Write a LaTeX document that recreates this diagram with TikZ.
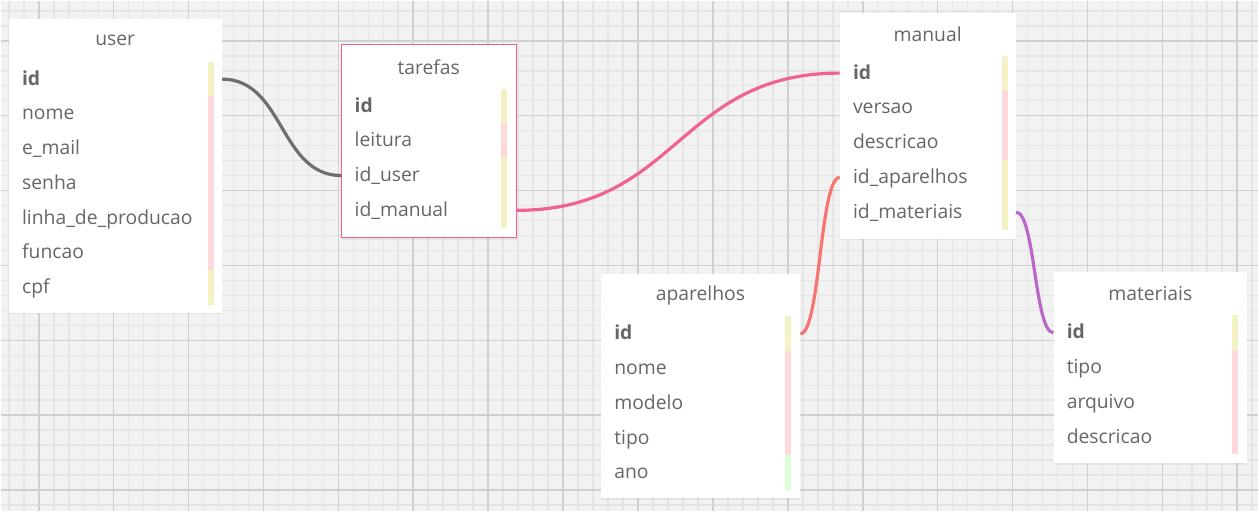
\documentclass[tikz,border=0pt]{standalone}
\usepackage{fontspec}
\setmainfont{Open Sans}
\usetikzlibrary{shadows}
\definecolor{fundo}{HTML}{F2F2F2}
\definecolor{gradefina}{HTML}{E5E5E5}
\definecolor{gradegrossa}{HTML}{D0D0D0}
\definecolor{textocinza}{HTML}{666666}
\definecolor{amarelo}{HTML}{F2F2C4}
\definecolor{rosa}{HTML}{FFD9D9}
\definecolor{verde}{HTML}{D9FFD9}
\definecolor{lrosa}{HTML}{F06292}
\definecolor{lcinza}{HTML}{6E6E6E}
\definecolor{lsalmao}{HTML}{F87470}
\definecolor{lroxo}{HTML}{BA68C8}

\tikzset{
  caixa/.style={fill=white, anchor=north west, inner sep=0pt,
    drop shadow={opacity=0.12, shadow xshift=0pt, shadow yshift=-1.2pt}},
  titulo/.style={text=textocinza, font=\fontsize{14.5}{17}\selectfont},
  campo/.style={anchor=west, text=textocinza, font=\fontsize{14.5}{17}\selectfont,
    inner xsep=9.8pt, inner ysep=0pt, text height=11pt, text depth=2pt, align=left},
  ligacao/.style={line width=2.4pt},
}

\begin{document}
\begin{tikzpicture}[x=0.75pt, y=-0.75pt]
  % fundo quadriculado
  \fill[fundo] (0,0) rectangle (1259,511);
  \foreach \x in {8,23,...,1253}
    \draw[gradefina, line width=1.2pt] (\x,0) -- (\x,511);
  \foreach \y in {10,25,...,505}
    \draw[gradefina, line width=1.2pt] (0,\y) -- (1259,\y);
  \foreach \x in {38,113,...,1238}
    \draw[gradegrossa, line width=1.2pt] (\x,0) -- (\x,511);
  \foreach \y in {40,115,...,490}
    \draw[gradegrossa, line width=1.2pt] (0,\y) -- (1259,\y);
  \useasboundingbox (0,0) rectangle (1259,511);

  % user
  \node[caixa, minimum width=159.75pt, minimum height=220.5pt] (user) at (8,18) {};
  \node[titulo] (user-titulo) at (114.5,40) {user};
  \foreach \campo/\cor [count=\i] in {\textbf{id}/amarelo, nome/rosa, e\_mail/rosa, senha/rosa,
      linha\_de\_producao/rosa, funcao/rosa, cpf/amarelo} {
    \node[campo, text width=140.15pt] (user-\i) at (8,{61+34.8*\i-17.4}) {\campo};
    \fill[\cor] (207,{61+34.8*(\i-1)}) rectangle (213,{61+34.8*\i});
  }

  % tarefas
  \node[caixa, draw=lrosa, line width=0.75pt, minimum width=131.25pt, minimum height=145.5pt] (tarefas) at (341,43) {};
  \node[titulo] (tarefas-titulo) at (428.5,66) {tarefas};
  \foreach \campo/\cor [count=\i] in {\textbf{id}/amarelo, leitura/rosa, id\_user/amarelo, id\_manual/amarelo} {
    \node[campo, text width=111.65pt] (tarefas-\i) at (341,{88+34.8*\i-17.4}) {\campo};
    \fill[\cor] (501,{88+34.8*(\i-1)}) rectangle (507,{88+34.8*\i});
  }

  % manual
  \node[caixa, minimum width=132pt, minimum height=169.5pt] (manual) at (840,12) {};
  \node[titulo] (manual-titulo) at (928,34) {manual};
  \foreach \campo/\cor [count=\i] in {\textbf{id}/amarelo, versao/rosa, descricao/rosa,
      id\_aparelhos/amarelo, id\_materiais/amarelo} {
    \node[campo, text width=112.4pt] (manual-\i) at (840,{55+34.8*\i-17.4}) {\campo};
    \fill[\cor] (1002,{55+34.8*(\i-1)}) rectangle (1008,{55+34.8*\i});
  }

  % aparelhos
  \node[caixa, minimum width=149.25pt, minimum height=168.75pt] (aparelhos) at (601,273) {};
  \node[titulo] (aparelhos-titulo) at (700.5,295) {aparelhos};
  \foreach \campo/\cor [count=\i] in {\textbf{id}/amarelo, nome/rosa, modelo/rosa, tipo/rosa, ano/verde} {
    \node[campo, text width=129.65pt] (aparelhos-\i) at (601,{316+34.8*\i-17.4}) {\campo};
    \fill[\cor] (785,{316+34.8*(\i-1)}) rectangle (791,{316+34.8*\i});
  }

  % materiais
  \node[caixa, minimum width=145.5pt, minimum height=144pt] (materiais) at (1054,271) {};
  \node[titulo] (materiais-titulo) at (1151,293) {materiais};
  \foreach \campo/\cor [count=\i] in {\textbf{id}/amarelo, tipo/rosa, arquivo/rosa, descricao/rosa} {
    \node[campo, text width=125.9pt] (materiais-\i) at (1054,{315+34.8*\i-17.4}) {\campo};
    \fill[\cor] (1233,{315+34.8*(\i-1)}) rectangle (1239,{315+34.8*\i});
  }

  % ligacoes
  \draw[ligacao, lcinza] (user-1.east) .. controls +(62,0) and +(-62,0) .. (tarefas-3.west);
  \draw[ligacao, lrosa] (tarefas-4.east) .. controls +(162,0) and +(-162,0) .. (manual-1.west);
  \draw[ligacao, lsalmao] (aparelhos-1.east) .. controls +(20,0) and +(-20,0) .. (manual-4.west);
  \draw[ligacao, lroxo] (manual-5.east) .. controls +(19,0) and +(-19,0) .. (materiais-1.west);
\end{tikzpicture}
\end{document}
